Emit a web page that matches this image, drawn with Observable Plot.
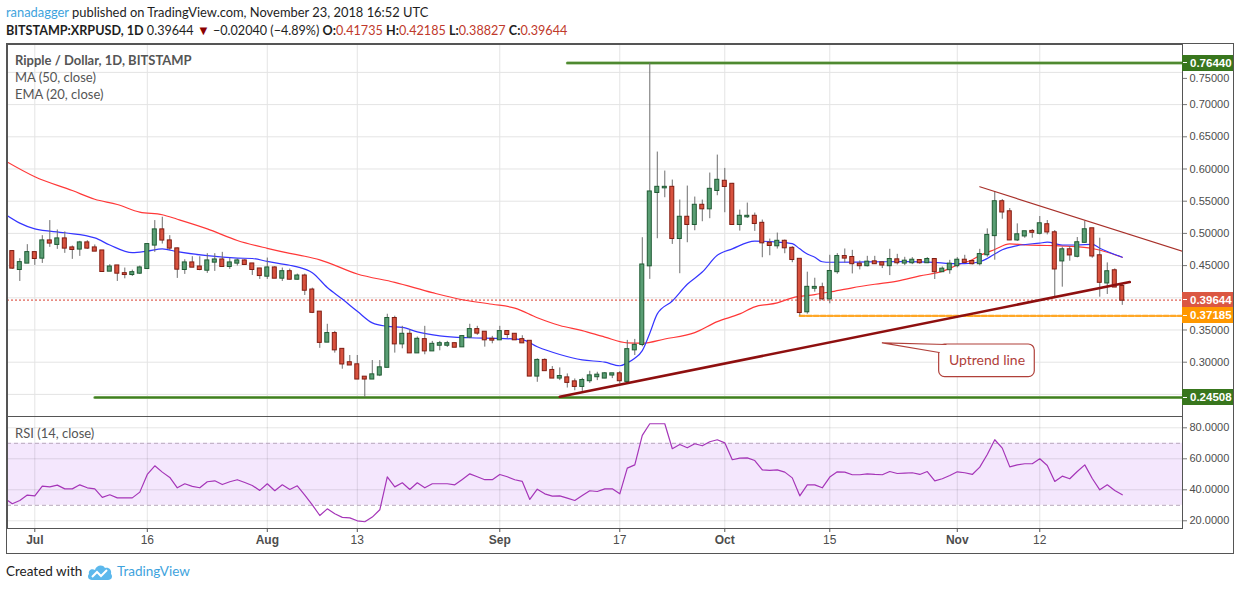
<!DOCTYPE html>
<html><head><meta charset="utf-8">
<script src="https://cdn.jsdelivr.net/npm/d3@7"></script>
<script src="https://cdn.jsdelivr.net/npm/@observablehq/plot@0.6"></script>
<style>
html,body{margin:0;padding:0;background:#fff;}
#root{position:relative;width:1240px;height:590px;overflow:hidden;font-family:Lato,"Open Sans",sans-serif;color:#1e1e1e;}
.abs{position:absolute;white-space:nowrap;}
#chart{position:absolute;left:7px;top:44px;width:1226px;height:509px;}
#chart svg{display:block;}
#border{position:absolute;left:6px;top:43px;width:1226px;height:509px;border:1px solid #555;pointer-events:none;}
.ov{position:absolute;white-space:nowrap;color:#555;font-size:13px;z-index:5;}
.lbl{position:absolute;left:1182px;width:51px;height:16px;z-index:6;color:#fff;font:bold 11.5px 'Liberation Sans',Arial,sans-serif;line-height:16px;}
.lbl i{position:absolute;left:1px;top:7.5px;width:4px;height:1px;background:#fff;}
.lbl span{position:absolute;left:8px;top:0;}
</style></head><body><div id="root">
<div class="abs" id="h1" style="left:6px;top:4px;font-size:12.9px;"></div>
<div class="abs" id="h2" style="left:6px;top:22px;font-size:12.6px;"></div>
<div id="chart"></div>
<div id="border"></div>
<div class="ov" style="left:15px;top:52px;font-weight:bold;">Ripple / Dollar, 1D, BITSTAMP</div>
<div class="ov" style="left:15px;top:69px;">MA (50, close)</div>
<div class="ov" style="left:15px;top:86px;">EMA (20, close)</div>
<div class="ov" style="left:15px;top:425px;">RSI (14, close)</div>
<div class="abs" style="left:6px;top:563px;font-size:13.5px;color:#222;">Created with</div>
<svg class="abs" style="left:87px;top:563px;" width="26" height="18" viewBox="0 0 26 18">
<path d="M5 17 C1 17 0 13 2 11 C1 7 5 5 8 7 C9 2 16 1 18 5 C22 4 25 7 24 11 C26 13 25 17 21 17 Z" fill="#5cb8ec"/>
<polyline points="5,14 10,9 14,13 20,7" fill="none" stroke="#fff" stroke-width="2"/>
</svg>
<div class="abs" style="left:117px;top:563px;font-size:13.5px;color:#3ea3dd;">TradingView</div>
</div>
<script>
// ---------- DATA ----------
const symbol = "BITSTAMP:XRPUSD, 1D";
const author = "ranadagger";
const published = "published on TradingView.com, November 23, 2018 16:52 UTC";
const startDate = "2018-06-28";
const opens = [0.4716,0.4441,0.4540,
0.4700,0.4617,0.4882,0.4830,0.4913,0.4773,0.4758,0.4851,0.4773,0.4726,0.4415,0.4493,0.4373,0.4363,0.4384,0.4456,0.4820,0.5053,0.4882,0.4758,0.4441,0.4540,0.4477,0.4430,0.4555,0.4586,0.4488,0.4540,0.4571,0.4524,0.4446,
0.4337,0.4462,0.4306,0.4404,0.4290,0.4337,0.4119,0.3776,0.3313,0.3443,0.3198,0.2990,0.2958,0.2766,0.2740,0.2802,0.2922,0.3677,0.3286,0.3432,0.3146,0.3349,0.3177,0.3265,0.3265,0.3286,0.3240,0.3391,0.3505,0.3464,0.3354,
0.3349,0.3474,0.3432,0.3349,0.3323,0.2786,0.3026,0.2870,0.2755,0.2755,0.2693,0.2625,0.2714,0.2776,0.2755,0.2802,0.2818,0.2703,0.3193,0.3276,0.4498,0.5637,0.5709,0.5714,0.4922,0.5249,0.5140,0.5435,0.5383,0.5668,
0.5808,0.5761,0.5140,0.5259,0.5264,0.5155,0.4845,0.4809,0.4876,0.4767,0.4596,0.3784,0.4150,0.4155,0.3985,0.4407,0.4639,0.4624,0.4521,0.4500,0.4557,0.4541,0.4500,0.4588,0.4541,0.4546,0.4577,0.4546,0.4593,0.4407,0.4438,
0.4500,0.4582,0.4562,0.4531,0.4670,0.4967,0.5490,0.5334,0.4900,0.4962,0.5029,0.5003,0.5133,0.5008,0.4574,0.4744,0.4646,0.4863,0.5070,0.4651,0.4232,0.4418,0.41735];
const highs = [0.4732,0.4607,0.4825,
0.4705,0.4965,0.5199,0.5053,0.5022,0.4804,0.4877,0.4887,0.4820,0.4726,0.4514,0.4493,0.4462,0.4430,0.4493,0.4835,0.5199,0.5251,0.4965,0.4773,0.4591,0.4638,0.4638,0.4685,0.4685,0.4706,0.4612,0.4602,0.4591,0.4530,0.4456,
0.4617,0.4483,0.4462,0.4446,0.4368,0.4368,0.4150,0.3776,0.3589,0.3479,0.3208,0.3104,0.3104,0.2766,0.3026,0.3026,0.3745,0.3714,0.3557,0.3505,0.3391,0.3557,0.3323,0.3323,0.3323,0.3297,0.3406,0.3589,0.3557,0.3464,0.3401,
0.3557,0.3484,0.3443,0.3411,0.3323,0.3052,0.3052,0.2932,0.2911,0.2818,0.2740,0.2750,0.2859,0.2844,0.2839,0.2818,0.2854,0.3339,0.3354,0.4933,0.7644,0.6263,0.5968,0.5828,0.5518,0.5735,0.5564,0.5518,0.5937,0.6216,
0.6009,0.5776,0.5362,0.5471,0.5316,0.5207,0.4912,0.5005,0.4897,0.4793,0.4596,0.4398,0.4304,0.4227,0.4660,0.4686,0.4758,0.4737,0.4572,0.4644,0.4644,0.4552,0.4753,0.4675,0.4629,0.4624,0.4593,0.4624,0.4603,0.4479,0.4582,
0.4624,0.4660,0.4582,0.4753,0.5070,0.5650,0.5526,0.5386,0.5148,0.5029,0.5060,0.5262,0.5200,0.5045,0.4786,0.4796,0.4936,0.5189,0.5070,0.4925,0.4542,0.4449,0.42185];
const lows = [0.4441,0.4254,0.4535,
0.4503,0.4534,0.4783,0.4752,0.4690,0.4597,0.4643,0.4752,0.4726,0.4394,0.4415,0.4254,0.4295,0.4332,0.4363,0.4441,0.4706,0.4835,0.4732,0.4301,0.4363,0.4477,0.4420,0.4379,0.4410,0.4472,0.4441,0.4493,0.4519,0.4347,0.4285,
0.4285,0.4306,0.4254,0.4275,0.4275,0.4036,0.3755,0.3215,0.3313,0.3141,0.2891,0.2958,0.2740,0.24508,0.2740,0.2776,0.2922,0.3141,0.3208,0.3146,0.3146,0.3115,0.3177,0.3177,0.3229,0.3234,0.3240,0.3365,0.3417,0.3234,0.3286,
0.3349,0.3365,0.3349,0.3302,0.2786,0.2688,0.2870,0.2755,0.2714,0.2599,0.2557,0.2547,0.2672,0.2714,0.2745,0.2745,0.2662,0.2703,0.3104,0.3240,0.4286,0.4917,0.5554,0.4829,0.4374,0.4855,0.5041,0.5181,0.5228,0.5585,
0.5321,0.5140,0.5036,0.5233,0.5031,0.4622,0.4653,0.4757,0.4684,0.4545,0.37185,0.3745,0.4088,0.3954,0.3907,0.4366,0.4541,0.4371,0.4433,0.4479,0.4521,0.4454,0.4345,0.4510,0.4500,0.4515,0.4521,0.4531,0.4284,0.4392,0.4366,
0.4464,0.4541,0.4510,0.4495,0.4630,0.4584,0.5220,0.4900,0.4874,0.4925,0.4925,0.4977,0.4977,0.4009,0.4165,0.4568,0.4620,0.4848,0.4615,0.4009,0.4051,0.4165,0.38827];
const closes = [0.4462,0.4545,0.4700,
0.4612,0.4882,0.4851,0.4913,0.4773,0.4752,0.4851,0.4773,0.4726,0.4410,0.4477,0.4384,0.4363,0.4389,0.4462,0.4825,0.5053,0.4898,0.4773,0.4446,0.4540,0.4477,0.4441,0.4571,0.4586,0.4488,0.4540,0.4571,0.4519,0.4441,0.4347,
0.4462,0.4306,0.4404,0.4290,0.4337,0.4119,0.3776,0.3309,0.3443,0.3193,0.2974,0.2958,0.2740,0.2740,0.2802,0.2911,0.3677,0.3286,0.3432,0.3146,0.3354,0.3177,0.3276,0.3286,0.3286,0.3234,0.3396,0.3505,0.3453,0.3349,0.3344,
0.3474,0.3432,0.3349,0.3302,0.2786,0.3026,0.2870,0.2755,0.2776,0.2688,0.2625,0.2714,0.2786,0.2797,0.2818,0.2818,0.2714,0.3193,0.3260,0.4508,0.5642,0.5714,0.5714,0.4922,0.5249,0.5140,0.5435,0.5383,0.5683,0.5823,
0.5730,0.5140,0.5264,0.5264,0.5155,0.4855,0.4814,0.4876,0.4778,0.4596,0.3773,0.4161,0.4160,0.3985,0.4407,0.4639,0.4618,0.4531,0.4500,0.4552,0.4531,0.4510,0.4593,0.4546,0.4567,0.4582,0.4546,0.4593,0.4407,0.4443,0.4521,
0.4582,0.4552,0.4531,0.4670,0.4967,0.5490,0.5334,0.4900,0.4977,0.5024,0.5019,0.5148,0.5024,0.4449,0.4744,0.4667,0.4853,0.5055,0.4651,0.4242,0.4403,0.41684,0.39644];

const ema20Dates = ["2018-06-27","2018-06-29","2018-07-01","2018-07-05","2018-07-09","2018-07-11","2018-07-14","2018-07-16","2018-07-18","2018-07-20","2018-07-24","2018-07-28","2018-07-30","2018-08-01","2018-08-04","2018-08-05","2018-08-07","2018-08-09","2018-08-11","2018-08-13","2018-08-15","2018-08-17","2018-08-19","2018-08-21","2018-08-24","2018-08-28","2018-09-01","2018-09-04","2018-09-06","2018-09-09","2018-09-12","2018-09-15","2018-09-17","2018-09-18","2018-09-19","2018-09-20","2018-09-21","2018-09-22","2018-09-24","2018-09-26","2018-09-28","2018-09-30","2018-10-02","2018-10-05","2018-10-08","2018-10-10","2018-10-11","2018-10-12","2018-10-13","2018-10-14","2018-10-15","2018-10-20","2018-10-25","2018-10-29","2018-10-31","2018-11-02","2018-11-04","2018-11-05","2018-11-06","2018-11-07","2018-11-09","2018-11-12","2018-11-13","2018-11-15","2018-11-17","2018-11-19","2018-11-20","2018-11-23"];
const ema20Values = [0.530,0.516,0.507,0.501,0.493,0.482,0.470,0.4725,0.476,0.4716,0.4654,0.4617,0.461,0.4565,0.4505,0.448,0.439,0.416,0.398,0.379,0.361,0.3557,0.354,0.347,0.341,0.338,0.337,0.335,0.324,0.312,0.3036,0.300,0.2945,0.299,0.306,0.318,0.345,0.375,0.395,0.421,0.440,0.466,0.476,0.488,0.4865,0.484,0.476,0.468,0.463,0.456,0.4552,0.4557,0.4562,0.455,0.4531,0.4531,0.456,0.461,0.468,0.4745,0.481,0.485,0.4863,0.482,0.482,0.483,0.477,0.463];

const ma50Dates = ["2018-06-27","2018-07-01","2018-07-06","2018-07-09","2018-07-12","2018-07-15","2018-07-18","2018-07-20","2018-07-24","2018-07-28","2018-08-01","2018-08-04","2018-08-06","2018-08-08","2018-08-13","2018-08-18","2018-08-23","2018-08-27","2018-08-31","2018-09-03","2018-09-06","2018-09-09","2018-09-12","2018-09-15","2018-09-18","2018-09-20","2018-09-23","2018-09-27","2018-09-30","2018-10-03","2018-10-05","2018-10-08","2018-10-10","2018-10-13","2018-10-15","2018-10-18","2018-10-21","2018-10-24","2018-10-27","2018-10-30","2018-11-01","2018-11-03","2018-11-04","2018-11-06","2018-11-08","2018-11-10","2018-11-13","2018-11-16","2018-11-19","2018-11-21","2018-11-23"];
const ma50Values = [0.613,0.588,0.5666,0.553,0.5448,0.533,0.529,0.522,0.507,0.489,0.4768,0.469,0.4645,0.459,0.437,0.424,0.408,0.397,0.390,0.384,0.369,0.357,0.349,0.339,0.330,0.3295,0.336,0.346,0.363,0.375,0.386,0.392,0.400,0.405,0.409,0.4155,0.421,0.426,0.434,0.441,0.451,0.459,0.4656,0.475,0.4837,0.4822,0.4812,0.480,0.4765,0.4708,0.463];

const rsiStart = "2018-06-27";
const rsiValues = [34.5,31.0,33.1,36.6,
36.1,42.4,41.9,43.0,40.6,40.6,43.2,41.3,40.6,35.1,36.8,34.8,34.8,34.8,38.5,49.9,55.5,51.4,48.0,41.3,43.9,42.2,41.3,45.2,45.8,43.4,45.2,46.5,44.7,42.8,39.6,
43.9,39.4,43.2,40.2,42.6,36.6,30.3,23.4,27.7,24.5,22.2,21.9,20.0,19.4,22.4,27.1,48.4,41.9,44.5,40.2,44.5,41.3,43.9,43.9,43.9,43.2,46.7,50.3,48.4,46.5,46.5,
49.9,48.4,46.5,45.4,33.8,40.4,37.4,35.9,36.1,34.6,33.1,36.3,39.4,38.9,40.6,40.6,37.4,54.0,56.1,75.1,82.6,82.6,82.6,66.5,69.2,67.1,69.7,68.4,71.0,72.3,
70.3,59.4,60.4,60.6,58.9,52.9,52.5,52.9,51.4,47.7,36.1,43.2,43.2,41.3,48.2,51.6,51.4,49.7,49.7,50.3,49.9,49.7,51.8,50.5,50.8,51.0,49.9,51.8,45.8,47.1,49.2,
51.6,51.0,49.9,54.6,62.8,72.3,66.9,54.8,56.1,56.8,56.8,60.0,55.7,45.4,48.8,47.1,51.8,56.1,47.3,40.0,43.2,39.6,36.8];

const priceGridTicks = [0.25,0.30,0.35,0.40,0.45,0.50,0.55,0.60,0.65,0.70,0.75];
const priceLabelTicks = [0.30,0.35,0.40,0.45,0.50,0.55,0.60,0.65,0.70];
const priceLabelTickShifted = [0.75];
const rsiTicks = [20,40,60,80];
const rsiBandLevels = [30,70];
const xTickDates = ["2018-07-01","2018-07-16","2018-08-01","2018-08-13","2018-09-01","2018-09-17","2018-10-01","2018-10-15","2018-11-01","2018-11-12"];
const xTickLabels = ["Jul","16","Aug","13","Sep","17","Oct","15","Nov","12"];
const xTickIsMonth = [true,false,true,false,true,false,true,false,true,false];

const resistanceLevel = 0.7644, resistanceFrom = "2018-09-10";
const supportLevel = 0.24508, supportFrom = "2018-07-09";
const support2Level = 0.37185, support2From = "2018-10-11";
const uptrendDates = ["2018-09-09","2018-11-24"], uptrendValues = [0.2465,0.4245];
const downtrendDates = ["2018-11-04","2018-12-01"], downtrendValues = [0.5724,0.4725];
const calloutText = "Uptrend line";
const calloutBoxDates = ["2018-10-29T14:00Z","2018-11-11T08:00Z"], calloutBoxValues = [0.2767,0.3275];
const calloutPointerDates = ["2018-10-30T12:00Z","2018-10-22T00:00Z","2018-10-29T14:00Z"], calloutPointerValues = [0.3275,0.3301,0.3151];

// ---------- BUILD ----------
const DAY = 864e5;
const t0 = Date.UTC(2018,6,1);
const xDomain = [new Date(t0 - 3.64*DAY), new Date(t0 + 153.03*DAY)];
const yDomain = [0.21568, 0.79332];
const rsiDomain = [15.03, 87.29];
const W = 1226, MR = 51;
const fmt5 = d3.format(".5f");
const ff = "'Liberation Sans', Arial, sans-serif";

const candles = opens.map((o,i) => ({date: d3.utcDay.offset(new Date(startDate), i), open:o, high:highs[i], low:lows[i], close:closes[i], up: closes[i] >= o}));
const half = 2.0/7.5*DAY;
const ema = ema20Dates.map((d,i)=>({date:new Date(d), v:ema20Values[i]}));
const ma = ma50Dates.map((d,i)=>({date:new Date(d), v:ma50Values[i]}));
const rsi = rsiValues.map((v,i)=>({date:d3.utcDay.offset(new Date(rsiStart), i), v}));
const ticks = xTickDates.map((d,i)=>({date:new Date(d), label:xTickLabels[i], month:xTickIsMonth[i]}));
const farRight = new Date(t0 + 170*DAY);
const hline = (lvl, from) => [{date:new Date(from), v:lvl},{date:farRight, v:lvl}];
const last = candles[candles.length-1], prev = candles[candles.length-2];

const labelBoxes = [
  {v: resistanceLevel, bg: "#38761d"},
  {v: supportLevel, bg: "#38761d"},
  {v: last.close, bg: "#db5742"},
  {v: support2Level, bg: "#ff9800"}
];

const pricePlot = Plot.plot({
  width: W, height: 372, marginLeft: 0, marginRight: MR, marginTop: 0, marginBottom: 0,
  x: {type: "utc", domain: xDomain, axis: null},
  y: {domain: yDomain, axis: null},
  color: {type: "identity"},
  style: {fontFamily: ff, fontSize: "11px", color: "#4d4d4d", background: "transparent", overflow: "visible"},
  marks: [
    Plot.gridX(ticks.map(t=>t.date), {stroke: "#e4e4e4", strokeOpacity: 1}),
    Plot.gridY(priceGridTicks, {stroke: "#e4e4e4", strokeOpacity: 1}),
    Plot.ruleY([last.close], {stroke: "#d83a2a", strokeDasharray: "2,2", strokeWidth: 1}),
    Plot.line(hline(resistanceLevel, resistanceFrom), {x:"date", y:"v", stroke:"#7fae62", strokeWidth:3, clip:true}),
    Plot.line(hline(resistanceLevel, resistanceFrom), {x:"date", y:"v", stroke:"#3f7d22", strokeWidth:1.5, clip:true}),
    Plot.line(hline(supportLevel, supportFrom), {x:"date", y:"v", stroke:"#7fae62", strokeWidth:3, clip:true}),
    Plot.line(hline(supportLevel, supportFrom), {x:"date", y:"v", stroke:"#3f7d22", strokeWidth:1.5, clip:true}),
    Plot.line(hline(support2Level, support2From), {x:"date", y:"v", stroke:"#ffa726", strokeWidth:2.2, strokeDasharray:"5,2", clip:true}),
    Plot.line(ma, {x:"date", y:"v", stroke:"#ff3838", strokeWidth:1.2, curve:"monotone-x", clip:true}),
    Plot.line(ema, {x:"date", y:"v", stroke:"#3535ff", strokeWidth:1.2, curve:"monotone-x", clip:true}),
    Plot.ruleX(candles, {x:"date", y1:"low", y2:"high", stroke:"#6e6e6e", strokeWidth:1}),
    Plot.rect(candles, {x1: d=>new Date(+d.date-half), x2: d=>new Date(+d.date+half),
      y1: d=>Math.min(d.open,d.close), y2: d=>Math.max(d.open,d.close),
      fill: d=>d.up?"#5a9e74":"#d8523e", stroke: d=>d.up?"#1f5b33":"#801c12", strokeWidth:1,
      insetTop:-0.6, insetBottom:-0.6}),
    Plot.line(uptrendDates.map((d,i)=>({date:new Date(d), v:uptrendValues[i]})), {x:"date", y:"v", stroke:"#8e0f0f", strokeWidth:2.6, clip:true}),
    Plot.line(downtrendDates.map((d,i)=>({date:new Date(d), v:downtrendValues[i]})), {x:"date", y:"v", stroke:"#a8302a", strokeWidth:1.2, clip:true}),
    Plot.rect([{}], {x1: ()=>new Date(calloutBoxDates[0]), x2: ()=>new Date(calloutBoxDates[1]), y1: ()=>calloutBoxValues[0], y2: ()=>calloutBoxValues[1], fill:"#fff", stroke:"#b0403a", strokeWidth:1.2, rx:6}),
    Plot.line(calloutPointerDates.map((d,i)=>({date:new Date(d), v:calloutPointerValues[i]})), {x:"date", y:"v", fill:"#fff", stroke:"#b0403a", strokeWidth:1.2}),
    Plot.text([calloutText], {x: ()=>new Date((+new Date(calloutBoxDates[0]) + +new Date(calloutBoxDates[1]))/2), y: ()=>(calloutBoxValues[0]+calloutBoxValues[1])/2, text: d=>d, fill:"#b0403a", fontSize:14, fontFamily:"Lato, 'Open Sans', sans-serif"}),
    Plot.frame({stroke:"#555"}),
    Plot.axisY(priceLabelTicks, {anchor:"right", tickFormat: fmt5, tickSize:4, tickPadding:3, stroke:"#777"}),
    Plot.axisY(priceLabelTickShifted, {anchor:"right", tickFormat: fmt5, tickSize:4, tickPadding:3, stroke:"#777", dy:6})
  ]
});

const rsiPlot = Plot.plot({
  width: W, height: 137, marginLeft: 0, marginRight: MR, marginTop: 0, marginBottom: 25,
  x: {type: "utc", domain: xDomain, axis: null},
  y: {domain: rsiDomain, axis: null},
  style: {fontFamily: ff, fontSize: "11px", color: "#4d4d4d", background: "transparent", overflow: "visible"},
  marks: [
    Plot.rect([{lo: rsiBandLevels[0], hi: rsiBandLevels[1]}], {y1:"lo", y2:"hi", fill:"#f4e7fd"}),
    Plot.gridX(ticks.map(t=>t.date), {stroke:"#000", strokeOpacity:0.1}),
    Plot.gridY(rsiTicks, {stroke:"#000", strokeOpacity:0.1}),
    Plot.ruleY(rsiBandLevels, {stroke:"#b8a8bc", strokeDasharray:"4,3"}),
    Plot.line(rsi, {x:"date", y:"v", stroke:"#a535b8", strokeWidth:1.2, clip:true}),
    Plot.frame({stroke:"#555"}),
    Plot.axisY(rsiTicks, {anchor:"right", tickFormat: d3.format(".4f"), tickSize:4, tickPadding:3, stroke:"#777"}),
    Plot.axisX(ticks.map(t=>t.date), {anchor:"bottom", tickSize:4, tickFormat: ()=>"", stroke:"#555"}),
    Plot.text(ticks.filter(t=>t.month), {x:"date", text:"label", frameAnchor:"bottom", dy:15, fontWeight:"bold", fontSize:12, fill:"#4d4d4d"}),
    Plot.text(ticks.filter(t=>!t.month), {x:"date", text:"label", frameAnchor:"bottom", dy:15, fontSize:12, fill:"#4d4d4d"})
  ]
});

const chart = document.getElementById("chart");
chart.appendChild(pricePlot);
chart.appendChild(rsiPlot);

// price-level labels on the right axis, positioned with the plot's own y scale
const yScale = pricePlot.scale("y");
const root = document.getElementById("root");
for (const L of labelBoxes) {
  const y = 44 + yScale.apply(L.v);
  const div = document.createElement("div");
  div.className = "lbl";
  div.style.top = (y - 8) + "px";
  div.style.background = L.bg;
  div.innerHTML = `<i></i><span>${fmt5(L.v)}</span>`;
  root.appendChild(div);
}

// header
const red = "#c0392b";
const chg = last.close - prev.close;
const pct = chg/prev.close*100;
document.getElementById("h1").innerHTML = `<span style="color:#3ea3dd">${author}</span> ${published}`;
document.getElementById("h2").innerHTML =
  `<b>${symbol}</b> ${fmt5(last.close)} <span style="color:#8b0000;font-size:13px">\u25BC</span> ${chg<0?"\u2212":""}${fmt5(Math.abs(chg))} (${chg<0?"\u2212":""}${Math.abs(pct).toFixed(2)}%) ` +
  `<b>O:</b><span style="color:${red}">${fmt5(last.open)}</span> <b>H:</b><span style="color:${red}">${fmt5(last.high)}</span> <b>L:</b><span style="color:${red}">${fmt5(last.low)}</span> <b>C:</b><span style="color:${red}">${fmt5(last.close)}</span>`;
</script>
</body></html>
